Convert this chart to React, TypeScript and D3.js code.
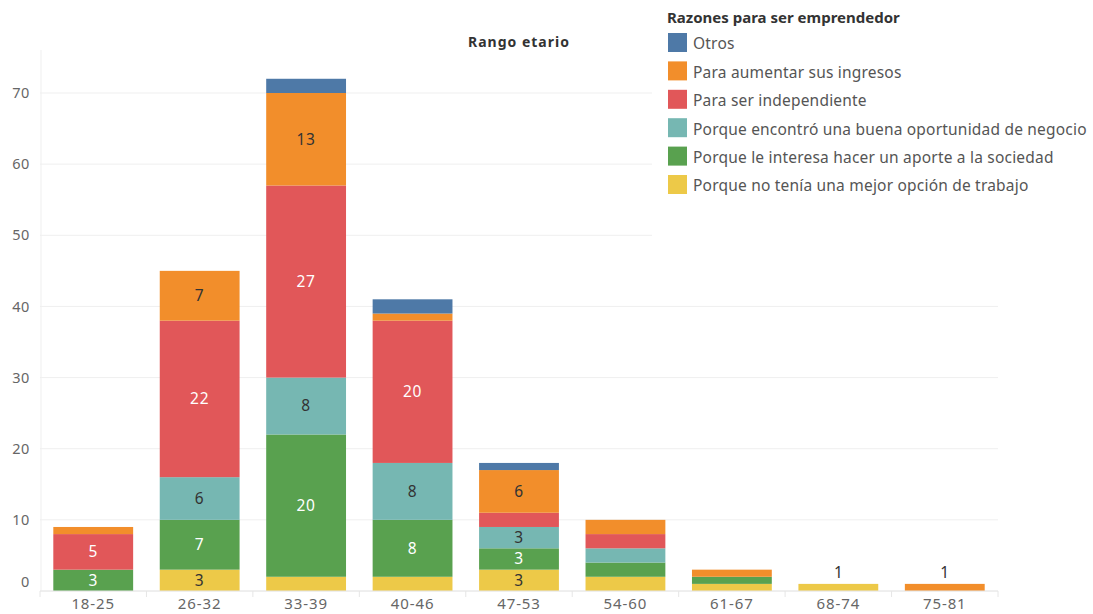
import React from "react";
import * as d3 from "d3";

const categories = ["18-25", "26-32", "33-39", "40-46", "47-53", "54-60", "61-67", "68-74", "75-81"];
const seriesNames = [
  "Porque no tenía una mejor opción de trabajo",
  "Porque le interesa hacer un aporte a la sociedad",
  "Porque encontró una buena oportunidad de negocio",
  "Para ser independiente",
  "Para aumentar sus ingresos",
  "Otros",
];
const noMejorOpcion = [0, 3, 2, 2, 3, 2, 1, 1, 0];
const aporteSociedad = [3, 7, 20, 8, 3, 2, 1, 0, 0];
const oportunidad = [0, 6, 8, 8, 3, 2, 0, 0, 0];
const independiente = [5, 22, 27, 20, 2, 2, 0, 0, 0];
const ingresos = [1, 7, 13, 1, 6, 2, 1, 0, 1];
const otros = [0, 0, 2, 2, 1, 0, 0, 0, 0];
const seriesValues = [noMejorOpcion, aporteSociedad, oportunidad, independiente, ingresos, otros];
const colors = ["#edc948", "#59a14f", "#76b7b2", "#e15759", "#f28e2b", "#4e79a7"];
const labelColors = ["#333", "#fff", "#333", "#fff", "#333", "#fff"];
const yTicks = [0, 10, 20, 30, 40, 50, 60, 70];
const legendOrder = [5, 4, 3, 2, 1, 0];

const W = 1093, H = 614;
const FONT = "'Noto Sans', sans-serif";

export default function App() {
  const x = d3.scaleBand<string>().domain(categories).range([40, 998]).paddingInner(0.25).paddingOuter(0.125);
  const y = d3.scaleLinear().domain([0, 70]).range([591, 93]);
  const rows = categories.map((c, i) => {
    const r: any = { cat: c };
    seriesNames.forEach((s, k) => (r[s] = seriesValues[k][i]));
    return r;
  });
  const stack = d3.stack<any>().keys(seriesNames)(rows);
  const totals = categories.map((_, i) => seriesValues.reduce((a, s) => a + s[i], 0));
  const segCount = categories.map((_, i) => seriesValues.filter((s) => s[i] > 0).length);
  const step = x.step();
  const bandEdges = categories.map((_, i) => 40 + i * step).concat([40 + categories.length * step]);

  return (
    <svg width={W} height={H} style={{ position: "absolute", left: 0, top: 0, fontFamily: FONT }}>
      <rect width={W} height={H} fill="#fff" />
      {yTicks.map((t) => (
        <line key={t} x1={40} x2={998} y1={y(t)} y2={y(t)} stroke="#efefef" strokeWidth={1} />
      ))}
      <line x1={41} x2={41} y1={50} y2={591} stroke="#efefef" />
      {yTicks.map((t) => (
        <text key={t} x={30} y={t === 0 ? y(t) - 9 : y(t)} dy="0.35em" textAnchor="end" fontSize={14.5} letterSpacing={0.6} fill="#666">
          {t}
        </text>
      ))}
      {stack.map((layer, k) =>
        layer.map((d, i) => {
          const v = d[1] - d[0];
          if (v <= 0) return null;
          return (
            <rect key={k + "-" + i} x={x(categories[i])} width={x.bandwidth()} y={y(d[1])} height={y(d[0]) - y(d[1])} fill={colors[k]} />
          );
        })
      )}
      {stack.map((layer, k) =>
        layer.map((d, i) => {
          const v = d[1] - d[0];
          if (v < 3) return null;
          return (
            <text key={"l" + k + "-" + i} x={(x(categories[i]) as number) + x.bandwidth() / 2} y={(y(d[0]) + y(d[1])) / 2} dy="0.35em" textAnchor="middle" fontSize={15.5} letterSpacing={0.8} fill={labelColors[k]}>
              {v}
            </text>
          );
        })
      )}
      {categories.map((c, i) =>
        segCount[i] === 1 && totals[i] < 3 ? (
          <text key={"t" + c} x={(x(c) as number) + x.bandwidth() / 2} y={y(totals[i]) - 6} textAnchor="middle" fontSize={15.5} fill="#333">
            {totals[i]}
          </text>
        ) : null
      )}
      <line x1={40} x2={998} y1={591} y2={591} stroke="#e6e6e6" />
      {bandEdges.map((e, i) => (
        <line key={"e" + i} x1={e} x2={e} y1={591} y2={597} stroke="#e6e6e6" />
      ))}
      {categories.map((c) => (
        <text key={"x" + c} x={(x(c) as number) + x.bandwidth() / 2} y={604} dy="0.35em" textAnchor="middle" fontSize={15} letterSpacing={0.9} fill="#666">
          {c}
        </text>
      ))}
      <text x={519} y={42} dy="0.35em" textAnchor="middle" fontSize={14} fontWeight="bold" letterSpacing={1} fill="#333">
        Rango etario
      </text>
      <rect x={652} y={0} width={441} height={250} fill="#fff" />
      <text x={667} y={18} dy="0.35em" fontSize={15} fontWeight="bold" fill="#333">
        Razones para ser emprendedor
      </text>
      {legendOrder.map((k, j) => (
        <g key={"lg" + k} transform={`translate(668, ${33 + j * 28.4})`}>
          <rect width={19} height={19} fill={colors[k]} />
          <text x={25} y={11} dy="0.35em" fontSize={15.5} letterSpacing={0.2} fill="#555">
            {seriesNames[k]}
          </text>
        </g>
      ))}
    </svg>
  );
}
